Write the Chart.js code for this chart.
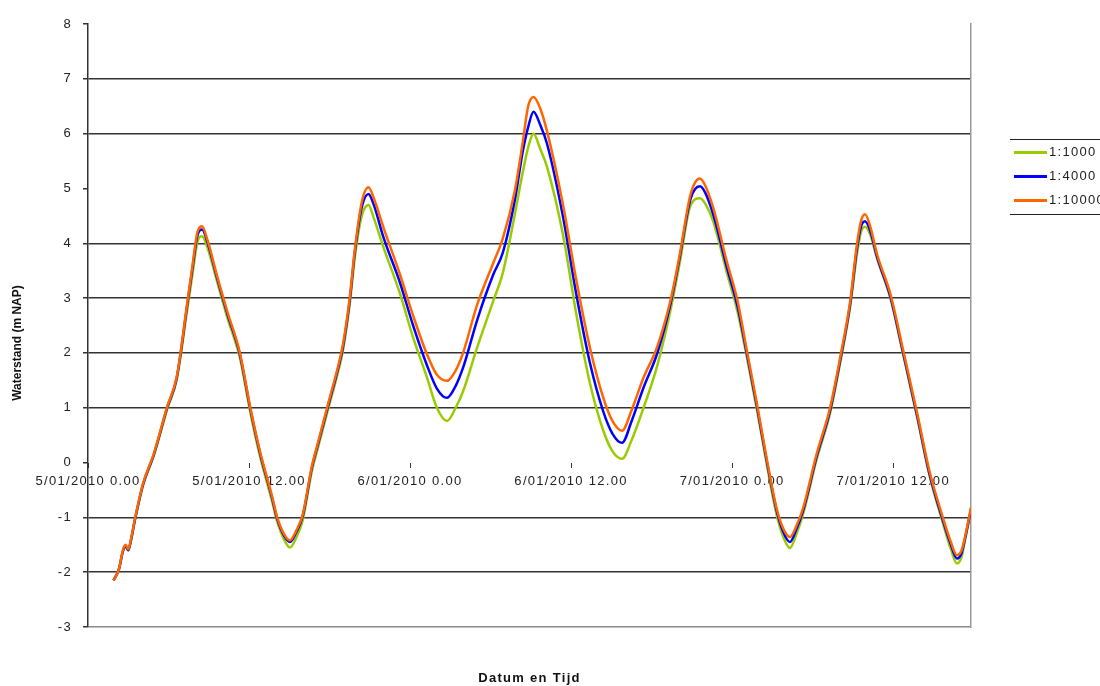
<!DOCTYPE html>
<html>
<head>
<meta charset="utf-8">
<script src="https://cdn.jsdelivr.net/npm/chart.js@4.4.1/dist/chart.umd.min.js"></script>
<style>
  html, body { margin: 0; padding: 0; background: #fff; }
  #wrap { position: relative; width: 1100px; height: 686px; overflow: hidden; }
  #legend {
    position: absolute; left: 1010px; top: 139px; width: 100px;
    border-top: 1.5px solid #222; border-bottom: 1.5px solid #222;
    padding: 0 0 2px 4px;
    font: 13px "Liberation Sans", Arial, sans-serif; letter-spacing: 1.3px; color: #222;
  }
  #legend .item { height: 24px; line-height: 24px; white-space: nowrap; }
  #legend .swatch { display: inline-block; width: 33px; height: 2.5px; vertical-align: middle; margin-right: 2px; }
</style>
</head>
<body>
<div id="wrap">
  <canvas id="chart" width="1100" height="686"></canvas>
  <div id="legend"></div>
</div>
<script>
// ─── Data ────────────────────────────────────────────────
// hours since 5/01/2010 0.00
const hours = [1.9, 2.3, 2.6, 2.8, 3.0, 3.2, 3.5, 4.1, 4.9, 5.9, 6.6, 7.4, 7.8, 8.15, 8.5, 8.9, 9.6, 10.4, 11.3, 12.1,
  12.8, 13.7, 14.1, 14.6, 15.05, 15.5, 16.0, 16.67, 17.1, 18.0, 18.6, 19.0, 19.5, 19.9, 20.4, 20.9, 21.3, 22.0, 23.25, 24.2,
  25.25, 26.0, 26.75, 27.4, 27.95, 29.0, 30.2, 30.9, 31.8, 32.4, 32.8, 33.2, 33.7, 34.2, 35.4, 36.4, 37.4, 38.4, 39.1, 39.8,
  40.5, 41.4, 42.4, 43.4, 44.1, 44.9, 45.6, 46.0, 46.6, 47.6, 48.4, 49.1, 49.85, 50.6, 51.3, 51.8, 52.3, 52.8, 53.3, 54.3,
  55.3, 56.0, 56.8, 57.3, 57.6, 57.9, 58.3, 58.8, 59.8, 60.7, 61.8, 62.7, 63.7, 64.3, 64.75, 65.1, 65.35, 65.8];

const level1000 = [-2.15, -1.95, -1.62, -1.53, -1.6, -1.43, -1.05, -0.42, 0.12, 0.97, 1.5, 2.8, 3.46, 4.02, 4.13, 3.92, 3.32, 2.63, 1.93, 0.91,
  0.13, -0.69, -1.08, -1.4, -1.55, -1.38, -1.05, -0.17, 0.24, 1.07, 1.62, 2.05, 2.88, 3.78, 4.5, 4.7, 4.46, 3.94, 3.08, 2.3,
  1.56, 1.0, 0.76, 1.0, 1.3, 2.1, 2.95, 3.45, 4.52, 5.3, 5.75, 6.0, 5.72, 5.4, 4.15, 2.69, 1.45, 0.58, 0.2, 0.07,
  0.4, 1.0, 1.75, 2.77, 3.65, 4.69, 4.82, 4.72, 4.39, 3.47, 2.75, 1.92, 0.96, -0.06, -0.94, -1.35, -1.56, -1.3, -0.93, 0.06,
  0.9, 1.75, 2.85, 3.8, 4.2, 4.3, 4.15, 3.72, 2.99, 2.02, 0.81, -0.23, -1.1, -1.58, -1.84, -1.72, -1.42, -0.88];

const level4000 = [-2.15, -1.95, -1.62, -1.52, -1.6, -1.42, -1.04, -0.4, 0.14, 1.0, 1.53, 2.88, 3.57, 4.14, 4.25, 4.02, 3.38, 2.7, 1.99, 0.97,
  0.19, -0.63, -1.03, -1.33, -1.45, -1.28, -0.98, -0.11, 0.3, 1.13, 1.68, 2.11, 2.95, 3.87, 4.66, 4.9, 4.7, 4.12, 3.28, 2.52,
  1.78, 1.35, 1.18, 1.4, 1.73, 2.6, 3.43, 3.82, 4.78, 5.68, 6.12, 6.4, 6.16, 5.82, 4.48, 3.05, 1.82, 0.93, 0.52, 0.36,
  0.75, 1.37, 1.98, 2.89, 3.75, 4.81, 5.04, 4.92, 4.52, 3.57, 2.85, 1.98, 1.02, 0.0, -0.86, -1.26, -1.45, -1.21, -0.87, 0.11,
  0.95, 1.8, 2.9, 3.9, 4.3, 4.4, 4.22, 3.75, 3.02, 2.05, 0.84, -0.2, -1.05, -1.5, -1.75, -1.65, -1.39, -0.85];

const level10000 = [-2.15, -1.95, -1.6, -1.5, -1.58, -1.4, -1.02, -0.38, 0.16, 1.02, 1.55, 2.92, 3.62, 4.2, 4.31, 4.06, 3.42, 2.74, 2.02, 1.0,
  0.22, -0.6, -1.0, -1.3, -1.42, -1.25, -0.95, -0.08, 0.33, 1.17, 1.72, 2.16, 3.0, 3.92, 4.75, 5.02, 4.82, 4.3, 3.43, 2.7,
  1.98, 1.6, 1.49, 1.68, 2.0, 2.88, 3.64, 4.08, 4.95, 5.85, 6.5, 6.67, 6.46, 6.05, 4.7, 3.31, 2.1, 1.18, 0.75, 0.58,
  0.95, 1.55, 2.1, 2.95, 3.8, 4.89, 5.18, 5.05, 4.64, 3.67, 2.95, 2.04, 1.07, 0.04, -0.82, -1.2, -1.36, -1.15, -0.82, 0.16,
  1.0, 1.85, 2.95, 3.98, 4.4, 4.53, 4.3, 3.8, 3.07, 2.1, 0.89, -0.15, -1.0, -1.45, -1.69, -1.6, -1.36, -0.82];

const seriesNames  = ["1:1000", "1:4000", "1:10000"];
const seriesColors = ["#99cc00", "#0000ff", "#ff6600"];
const seriesValues = [level1000, level4000, level10000];

const tickHours  = [0, 12, 24, 36, 48, 60];
const tickLabels = ["5/01/2010 0.00", "5/01/2010 12.00", "6/01/2010 0.00", "6/01/2010 12.00", "7/01/2010 0.00", "7/01/2010 12.00"];
const hourMax = 65.8;

const xTitle = "Datum en Tijd";
const yTitle = "Waterstand (m NAP)";

// ─── Titles + letter spacing ─────────────────────────────
const FONT = '"Liberation Sans", Arial, sans-serif';
const titles = {
  id: "titles",
  beforeUpdate(chart) { chart.ctx.letterSpacing = "1.3px"; },
  beforeDraw(chart)   { chart.ctx.letterSpacing = "1.3px"; },
  afterDraw(chart) {
    const ctx = chart.ctx;
    const a = chart.chartArea;
    ctx.save();
    ctx.fillStyle = "#111";
    ctx.textAlign = "center";
    ctx.textBaseline = "middle";
    ctx.font = "bold 13px " + FONT;
    ctx.letterSpacing = "1.3px";
    ctx.fillText(xTitle, (a.left + a.right) / 2, 678);
    ctx.letterSpacing = "0px";
    ctx.font = "bold 12px " + FONT;
    ctx.translate(18, chart.height / 2);
    ctx.rotate(-Math.PI / 2);
    ctx.fillText(yTitle, 0, 0);
    ctx.restore();
  }
};

// ─── Chart ───────────────────────────────────────────────
const datasets = seriesNames.map((name, i) => ({
  label: name,
  data: hours.map((h, j) => ({ x: h, y: seriesValues[i][j] })),
  borderColor: seriesColors[i],
  borderWidth: 2.5,
  pointRadius: 0,
  cubicInterpolationMode: "monotone",
  order: seriesNames.length - i
}));

new Chart(document.getElementById("chart"), {
  type: "line",
  data: { datasets },
  options: {
    responsive: false,
    animation: false,
    layout: { padding: { top: 24, right: 129, bottom: 59, left: 0 } },
    plugins: { legend: { display: false }, tooltip: { enabled: false } },
    scales: {
      x: {
        type: "linear",
        position: { y: 0 },
        min: 0, max: hourMax,
        afterBuildTicks: s => { s.ticks = tickHours.map(v => ({ value: v })); },
        ticks: {
          autoSkip: false, maxRotation: 0, padding: 6,
          color: "#222", font: { family: FONT, size: 13 },
          callback: v => tickLabels[tickHours.indexOf(v)]
        },
        grid: { drawOnChartArea: false, tickLength: 5, tickColor: "#333" },
        border: { display: false }
      },
      y: {
        min: -3, max: 8,
        afterFit: s => { s.width = 88; },
        ticks: { stepSize: 1, padding: 11, color: "#222", font: { family: FONT, size: 13 } },
        grid: {
          tickLength: 5, tickColor: "#333", lineWidth: 1.5,
          color: c => {
            const v = c.tick.value;
            if (v === 0 || v === 5 || v === 8) return "rgba(0,0,0,0)";
            return v === -3 ? "#888" : "#333";
          }
        },
        border: { color: "#333", width: 1.5 }
      },
      yR: {
        position: "right",
        min: -3, max: 8,
        afterFit: s => { s.width = 0; },
        ticks: { display: false },
        grid: { display: false, drawTicks: false },
        border: { color: "#999", width: 1.5 }
      }
    }
  },
  plugins: [titles]
});

// ─── Legend ──────────────────────────────────────────────
document.getElementById("legend").innerHTML = seriesNames.map((name, i) =>
  `<div class="item"><span class="swatch" style="background:${seriesColors[i]}"></span>${name}</div>`
).join("");
</script>
</body>
</html>
